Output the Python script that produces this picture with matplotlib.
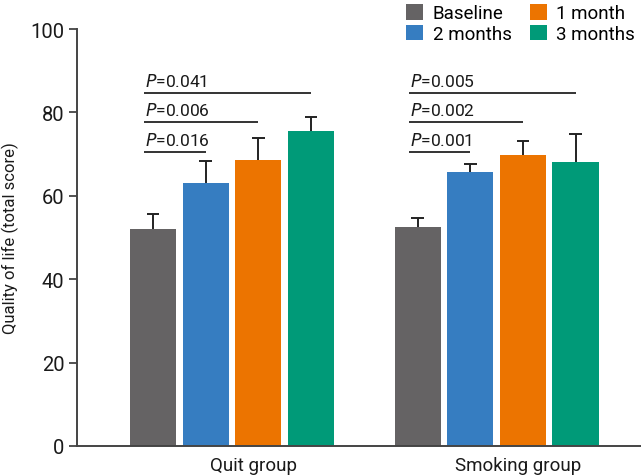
import numpy as np
import matplotlib; matplotlib.use("Agg")
import matplotlib.pyplot as plt

plt.rcParams['font.family'] = ['Roboto', 'DejaVu Sans']

groups = ["Quit group", "Smoking group"]
series = ["Baseline", "2 months", "1 month", "3 months"]
colors = ["#656364", "#367DC1", "#EC7400", "#009A78"]
means = {"Baseline": [52.0, 52.4], "2 months": [63.1, 65.7],
         "1 month": [68.6, 69.8], "3 months": [75.5, 68.1]}
err_up = {"Baseline": [3.6, 2.3], "2 months": [5.3, 2.0],
          "1 month": [5.3, 3.3], "3 months": [3.3, 6.8]}
pvals = [["P=0.016", "P=0.006", "P=0.041"], ["P=0.001", "P=0.002", "P=0.005"]]
p_levels = [70.5, 77.7, 84.7]

fig = plt.figure(figsize=(6.41, 4.77), dpi=100)
ax = fig.add_axes([0.120, 0.063, 0.880, 0.874])

x = np.arange(len(groups))
step, w = 0.199, 0.174
offs = (np.arange(4) - 1.5) * step
cap = 0.024
for i, s in enumerate(series):
    xs = x + offs[i]
    m = np.array(means[s]); top = m + np.array(err_up[s])
    ax.bar(xs, m, w, color=colors[i], label=s, zorder=2)
    # upper-only error bars
    ax.vlines(xs, m, top, color="#222222", lw=1.4, zorder=1)
    ax.hlines(top, xs - cap, xs + cap, color="#222222", lw=1.4, zorder=3)

# significance lines vs baseline
for g in range(len(groups)):
    x0 = x[g] + offs[0] - 0.033
    for k in range(3):
        y = p_levels[k]
        ax.plot([x0, x[g] + offs[k + 1]], [y, y], color="#333333", lw=1.4,
                solid_capstyle="butt", zorder=3)
        lab = pvals[g][k]
        ax.text(x0 + 0.003, y + 0.9, "$\\mathit{P}$" + lab[1:], fontsize=12.5,
                ha="left", va="bottom", color="#1a1a1a")

ax.set_ylim(0, 100)
ax.set_xlim(-0.586, 1.546)
ax.set_yticks([0, 20, 40, 60, 80, 100])
ax.set_xticks(x + 0.083)
ax.set_xticklabels(groups)
ax.tick_params(axis="x", length=0, labelsize=13.5, pad=7, colors="#1a1a1a")
ax.tick_params(axis="y", length=6, width=1.3, labelsize=14.5, colors="#444444",
               labelcolor="#1a1a1a", pad=3)
ax.set_ylabel("Quality of life (total score)", fontsize=12, color="#1a1a1a", labelpad=8)
for sp in ["top", "right"]:
    ax.spines[sp].set_visible(False)
for sp in ["left", "bottom"]:
    ax.spines[sp].set_color("#444444")
    ax.spines[sp].set_linewidth(1.4)

ax.legend(ncol=2, loc="upper right", bbox_to_anchor=(1.003, 1.078), frameon=False,
          fontsize=13.5, handlelength=0.9, handleheight=0.9, handletextpad=0.5,
          columnspacing=1.0, labelspacing=0.12, borderaxespad=0)

fig.savefig("out.png", dpi=100)
